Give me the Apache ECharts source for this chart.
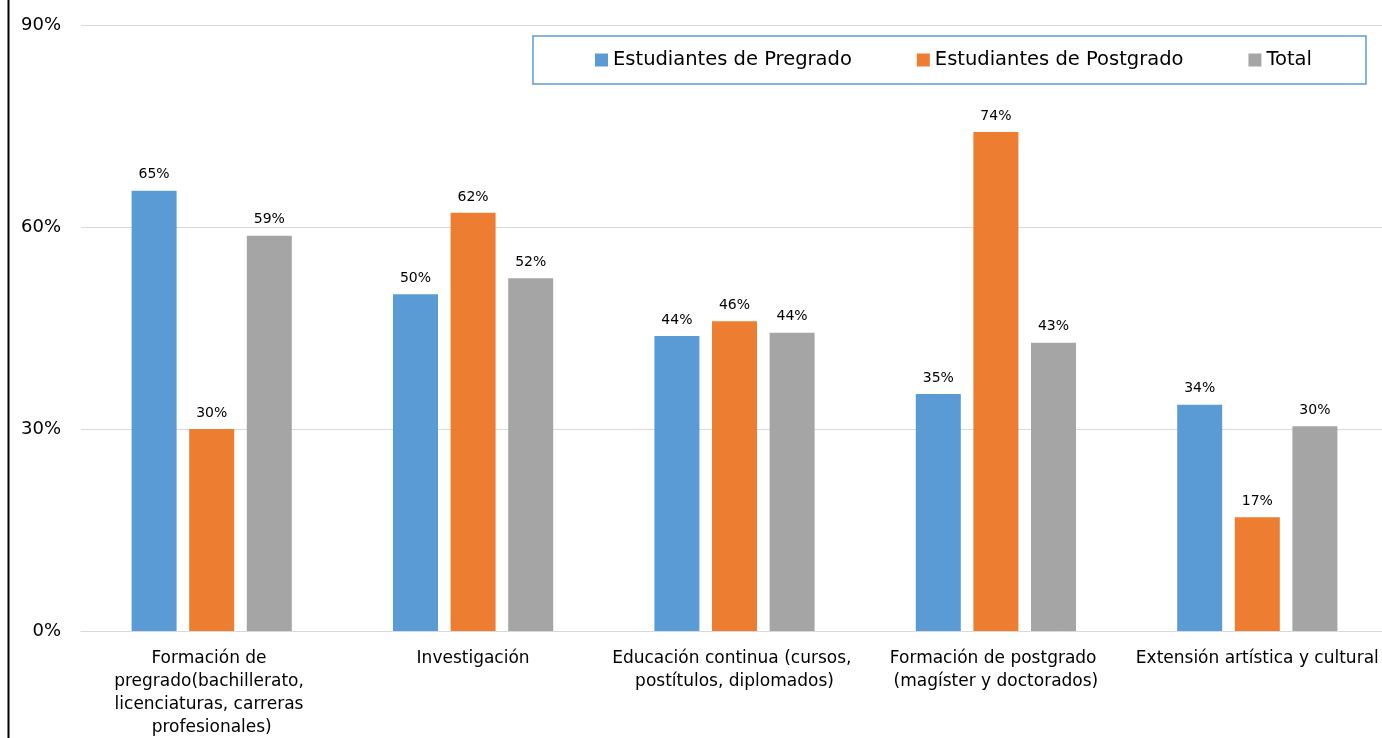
<!DOCTYPE html>
<html>
<head>
<meta charset="utf-8">
<script src="https://cdn.jsdelivr.net/npm/echarts@6/dist/echarts.min.js"></script>
<style>
  html, body { margin: 0; padding: 0; background: #fff; }
  #chart { width: 1382px; height: 738px; }
</style>
</head>
<body>
<div id="chart"></div>
<script>
// Áreas de actividad y porcentaje de estudiantes por nivel
const categories = [
  'Formación de pregrado(bachillerato, licenciaturas, carreras profesionales)',
  'Investigación',
  'Educación continua (cursos, postítulos, diplomados)',
  'Formación de postgrado (magíster y doctorados)',
  'Extensión artística y cultural'
];
const seriesNames = ['Estudiantes de Pregrado', 'Estudiantes de Postgrado', 'Total'];
const pregrado  = [65.4, 50.0, 43.8, 35.2, 33.6];
const postgrado = [30.0, 62.1, 46.0, 74.1, 16.9];
const total     = [58.7, 52.4, 44.3, 42.8, 30.4];
const yTicks = [0, 30, 60, 90];

const colors = ['#5B9BD5', '#ED7D31', '#A5A5A5'];
const FONT = '"DejaVu Sans", sans-serif';

const chart = echarts.init(document.getElementById('chart'), null, { renderer: 'canvas' });

const makeSeries = (name, data, color) => ({
  name,
  type: 'bar',
  data,
  barWidth: 45,
  barGap: '28%',
  itemStyle: { color },
  label: {
    show: true,
    position: 'top',
    distance: 9,
    formatter: p => Math.round(p.value) + '%',
    fontFamily: FONT,
    fontSize: 14,
    color: '#000'
  }
});

chart.setOption({
  animation: false,
  backgroundColor: '#fff',
  color: colors,
  textStyle: { fontFamily: FONT },
  grid: {
    left: 81, top: 25, width: 1307, height: 606,
    containLabel: false,
    outerBoundsMode: 'none'
  },
  legend: {
    left: 533,
    top: 36,
    itemWidth: 13,
    itemHeight: 13,
    itemGap: 65,
    icon: 'rect',
    padding: [14, 54, 14, 62],
    borderColor: '#5B9BD5',
    borderWidth: 1.5,
    textStyle: { fontFamily: FONT, fontSize: 19.5, color: '#000' },
    data: seriesNames
  },
  xAxis: {
    type: 'category',
    data: categories,
    axisLine: { show: true, lineStyle: { color: '#d9d9d9', width: 1 } },
    axisTick: { show: false },
    axisLabel: {
      interval: 0,
      margin: 16,
      width: 262,
      overflow: 'break',
      lineHeight: 23,
      fontFamily: FONT,
      fontSize: 17,
      color: '#000'
    }
  },
  yAxis: {
    type: 'value',
    min: 0,
    max: 90,
    interval: 30,
    axisLine: { show: false },
    axisTick: { show: false },
    splitLine: { lineStyle: { color: '#d9d9d9', width: 1 } },
    axisLabel: {
      margin: 20,
      formatter: v => (yTicks.includes(v) ? v + '%' : ''),
      fontFamily: FONT,
      fontSize: 18,
      color: '#000'
    }
  },
  graphic: [
    {
      type: 'line',
      shape: { x1: 8.5, y1: 0, x2: 8.5, y2: 738 },
      style: { stroke: '#000', lineWidth: 2 }
    }
  ],
  series: [
    makeSeries(seriesNames[0], pregrado, colors[0]),
    makeSeries(seriesNames[1], postgrado, colors[1]),
    makeSeries(seriesNames[2], total, colors[2])
  ]
});
</script>
</body>
</html>
